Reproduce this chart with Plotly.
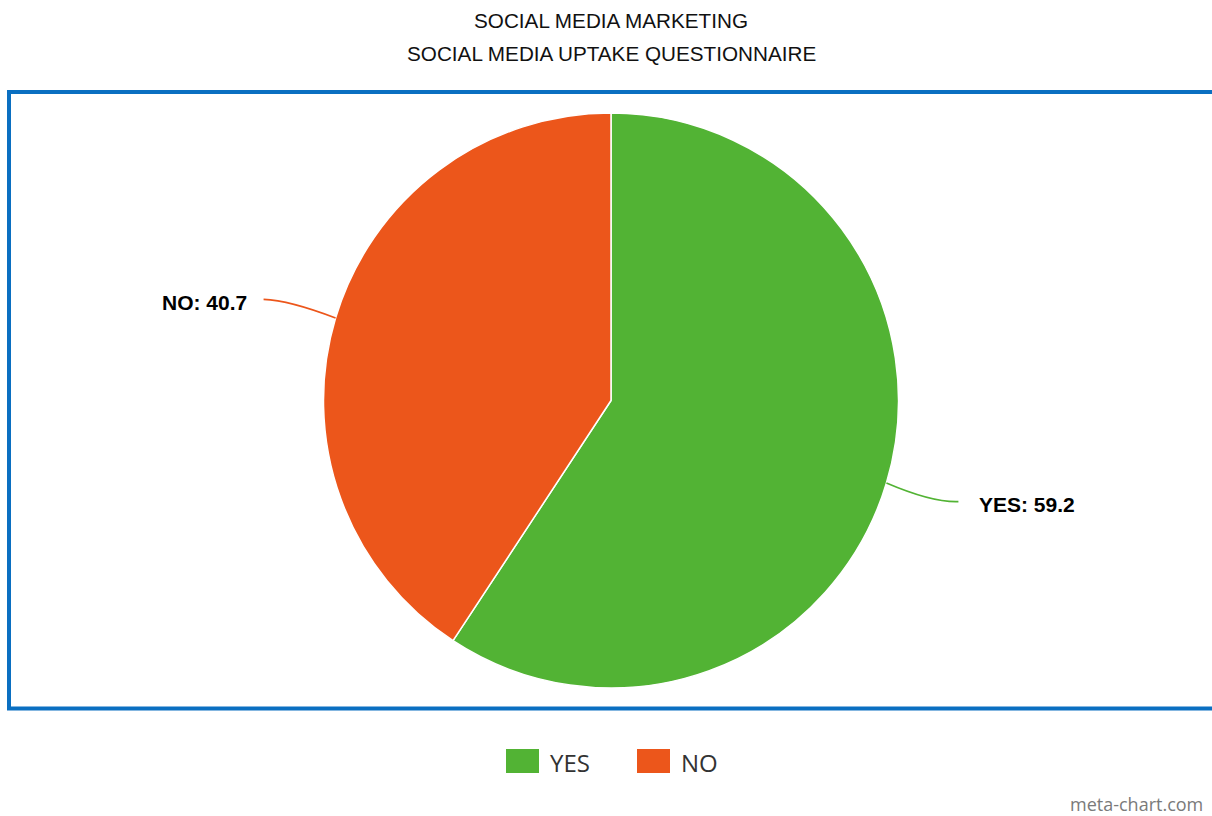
import math
import plotly.graph_objects as go

# ---- data ----
categories = ["YES", "NO"]
values = [59.2, 40.7]
colors = ["#52b334", "#ec561b"]
title_lines = ["SOCIAL MEDIA MARKETING", "SOCIAL MEDIA UPTAKE QUESTIONNAIRE"]

W, H = 1212, 816
CX, CY, R = 611.0, 400.5, 287.5  # pie centre / radius in pixels


def px(x):
    return x / W


def py(y):
    return 1 - y / H


fig = go.Figure(go.Pie(
    labels=categories,
    values=values,
    marker=dict(colors=colors, line=dict(color="#ffffff", width=1.5)),
    sort=False,
    direction="clockwise",
    rotation=0,
    textinfo="none",
    hoverinfo="label+value",
    showlegend=False,
    domain=dict(x=[px(CX - R), px(CX + R)], y=[py(CY + R), py(CY - R)]),
))

shapes = []
annotations = []

# outer blue frame
shapes.append(dict(type="rect", xref="paper", yref="paper",
                   x0=px(9), x1=px(1240), y0=py(708.5), y1=py(92),
                   line=dict(color="#0a6fc1", width=4), layer="below"))

# titles
for i, t in enumerate(title_lines):
    annotations.append(dict(text=t, xref="paper", yref="paper", x=px(611), y=py(20 + 34 * i),
                            xanchor="center", yanchor="middle", showarrow=False,
                            font=dict(family="Liberation Sans, Arial", size=20.7, color="#111")))

# data labels with leader lines, derived from the slice mid-angles
total = sum(values)
cum = 0.0
for cat, v, c in zip(categories, values, colors):
    mid = (cum + v / 2) / total
    cum += v
    ang = 2 * math.pi * mid  # clockwise from 12 o'clock
    ux, uy = math.sin(ang), -math.cos(ang)  # screen coords (y down)
    s = 1 if ux >= 0 else -1
    x0, y0 = CX + R * ux, CY + R * uy
    x2, y2 = x0 + s * 72, CY + (R + 65) * uy
    x1, y1 = x2 - s * 26, y2 + 1
    path = (f"M {px(x0)},{py(y0)} Q {px(x1)},{py(y1)} {px(x2)},{py(y2)}")
    shapes.append(dict(type="path", xref="paper", yref="paper", path=path,
                       line=dict(color=c, width=1.6)))
    annotations.append(dict(text=f"<b>{cat}: {v}</b>", xref="paper", yref="paper",
                            x=px(x2 + s * (19 if s > 0 else 15)), y=py(y2 + 3),
                            xanchor="left" if s > 0 else "right", yanchor="middle",
                            showarrow=False,
                            font=dict(family="Liberation Sans, Arial", size=21, color="#000")))

# legend (drawn manually to match large swatches)
leg_x = [506, 637]
for cat, c, lx in zip(categories, colors, leg_x):
    shapes.append(dict(type="rect", xref="paper", yref="paper",
                       x0=px(lx), x1=px(lx + 33), y0=py(773), y1=py(749),
                       fillcolor=c, line=dict(width=0)))
    annotations.append(dict(text=cat, xref="paper", yref="paper", x=px(lx + 42), y=py(762),
                            xanchor="left", yanchor="middle", showarrow=False,
                            font=dict(family="Open Sans, Noto Sans", size=24, color="#333")))

# watermark
annotations.append(dict(text="meta-chart.com", xref="paper", yref="paper", x=px(1205), y=py(804),
                        xanchor="right", yanchor="middle", showarrow=False,
                        font=dict(family="Open Sans, Noto Sans", size=18, color="#7a7a7a")))

fig.update_layout(
    width=W, height=H,
    margin=dict(l=0, r=0, t=0, b=0),
    paper_bgcolor="#ffffff", plot_bgcolor="#ffffff",
    shapes=shapes, annotations=annotations,
)

fig.write_html(
    "out.html",
    config={"displayModeBar": False},
    post_script="document.body.style.margin='0';document.body.style.overflow='hidden';",
)
